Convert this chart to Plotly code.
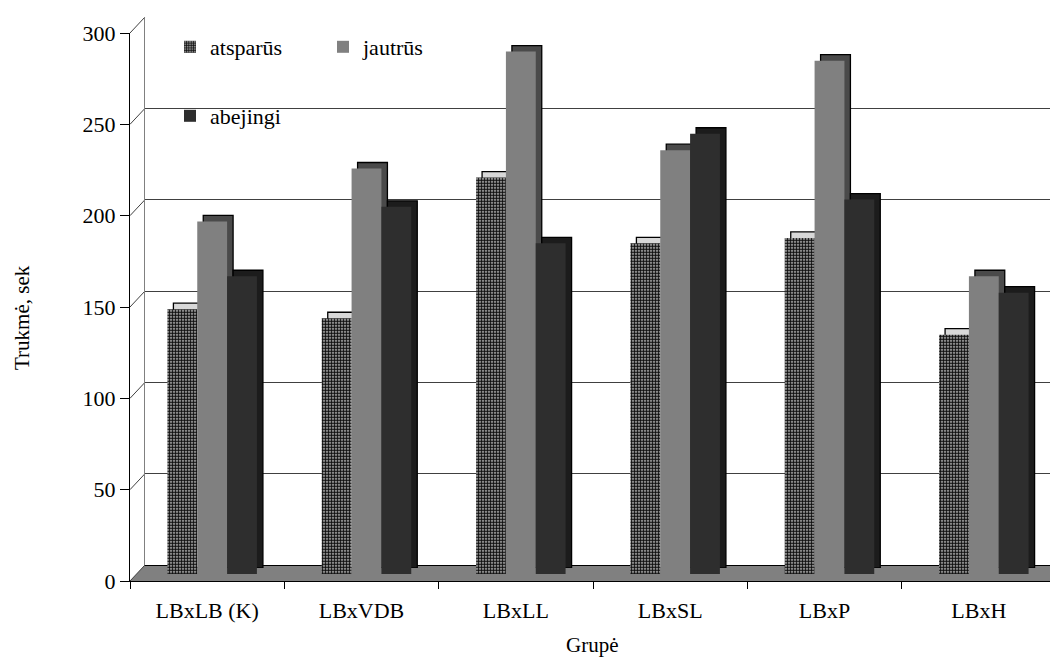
import plotly.graph_objects as go

# ---- data ----
categories = ["LBxLB (K)", "LBxVDB", "LBxLL", "LBxSL", "LBxP", "LBxH"]
atsparus = [145, 140, 217, 181, 184, 131]
jautrus = [193, 222, 286, 232, 281, 163]
abejingi = [163, 201, 181, 241, 205, 154]
series_names = ["atsparūs", "jautrūs", "abejingi"]
y_ticks = [0, 50, 100, 150, 200, 250, 300]

# ---- geometry / style ----
W, H = 1058, 657
PAGE_OFF = 8            # browser body margin compensation
X0, X1 = 130, 1056      # front category axis (px, screen)
Y0, YT = 581, 33        # front value axis: 0 and 300 (px from top, screen)
cat_px = (X1 - X0) / len(categories)
FONT = "Liberation Serif"
FS = 22
WALL = (15, 16)         # back wall depth offset (dx, dy)
FRONT = (5, 7)          # bar front face offset
BACK = (11, 13)         # bar back face offset


def px(x):
    return (x - PAGE_OFF) / W


def py(y):
    return (H - (y - PAGE_OFF)) / H


def yfront(v):
    return Y0 - (Y0 - YT) * v / 300.0


def shifted(dx, dy):
    right = W + PAGE_OFF
    span = (right - X0 - dx) / cat_px
    return dict(domain=[px(X0 + dx), 1.0], range=[-0.5, -0.5 + span]), \
        dict(domain=[py(Y0 - dy), py(YT - dy)], range=[0, 300])


fig = go.Figure()

# front axis holder (invisible)
fig.add_trace(go.Scatter(x=categories, y=[0] * len(categories), mode="none",
                         showlegend=False, hoverinfo="skip", xaxis="x", yaxis="y"))
# back wall holder (invisible)
fig.add_trace(go.Scatter(x=categories, y=[0] * len(categories), mode="none",
                         showlegend=False, hoverinfo="skip", xaxis="x2", yaxis="y2"))

values = [atsparus, jautrus, abejingi]
shadow_colors = ["#d8d8d8", "#4a4a4a", "#1c1c1c"]
front_colors = ["#b0b0b0", "#808080", "#2e2e2e"]
legends = ["legend", "legend", "legend2"]

# depth (top + side faces) drawn behind
for name, vals, col in zip(series_names, values, shadow_colors):
    fig.add_trace(go.Bar(x=categories, y=vals, name=name, xaxis="x3", yaxis="y3",
                         marker=dict(color=col, line=dict(color="black", width=1.3)),
                         showlegend=False, hoverinfo="skip"))

# front faces
for i, (name, vals, col, lg) in enumerate(zip(series_names, values, front_colors, legends)):
    marker = dict(color=col, line=dict(width=0))
    if i == 0:
        marker["pattern"] = dict(shape=".", size=3, solidity=0.7,
                                 fgcolor="#111111", bgcolor="#d8d8d8", fillmode="replace")
    fig.add_trace(go.Bar(x=categories, y=vals, name=name, xaxis="x4", yaxis="y4",
                         marker=marker, legend=lg))

xa2, ya2 = shifted(*WALL)
xa3, ya3 = shifted(*BACK)
xa4, ya4 = shifted(*FRONT)

hidden = dict(visible=False, type="category", categoryorder="array",
              categoryarray=categories, automargin=False)

# shapes: floor and left wall edges
shapes = []
shapes.append(dict(type="path", xref="paper", yref="paper", layer="below",
                   path=f"M {px(X0)},{py(Y0)} L 1,{py(Y0)} L 1,{py(Y0 - WALL[1])} "
                        f"L {px(X0 + WALL[0])},{py(Y0 - WALL[1])} Z",
                   fillcolor="#808080", line=dict(width=0)))
for v in y_ticks:
    yf = yfront(v)
    shapes.append(dict(type="line", xref="paper", yref="paper", layer="below",
                       x0=px(X0), y0=py(yf), x1=px(X0 + WALL[0]), y1=py(yf - WALL[1]),
                       line=dict(color="#404040", width=1)))

fig.update_layout(
    width=W, height=H, autosize=False,
    margin=dict(l=0, r=0, t=0, b=0, autoexpand=False),
    paper_bgcolor="white", plot_bgcolor="rgba(0,0,0,0)",
    font=dict(family=FONT, size=FS, color="black"),
    barmode="group", bargap=0.42, bargroupgap=0,
    xaxis=dict(domain=[px(X0), px(X1)], type="category", categoryorder="array",
               categoryarray=categories, range=[-0.5, 5.5], automargin=False,
               showline=True, linecolor="black", linewidth=1,
               ticks="outside", ticklen=7, tickcolor="black", tickson="boundaries",
               ticklabelstandoff=10,
               showgrid=False, zeroline=False, tickfont=dict(size=FS), anchor="y"),
    yaxis=dict(domain=[py(Y0), py(YT)], range=[0, 300], tickvals=y_ticks, automargin=False,
               showline=True, linecolor="black", linewidth=1,
               ticks="outside", ticklen=9, tickcolor="black",
               showgrid=False, zeroline=False, tickfont=dict(size=FS), anchor="x"),
    xaxis2=dict(hidden, **xa2, anchor="y2"),
    yaxis2=dict(**ya2, anchor="x2", tickvals=y_ticks, showticklabels=False, ticks="",
                automargin=False,
                showgrid=True, gridcolor="#404040", gridwidth=1,
                zeroline=True, zerolinecolor="black", zerolinewidth=1,
                showline=True, linecolor="#808080", linewidth=1),
    xaxis3=dict(hidden, **xa3, anchor="y3"),
    yaxis3=dict(**ya3, anchor="x3", visible=False, automargin=False),
    xaxis4=dict(hidden, **xa4, anchor="y4"),
    yaxis4=dict(**ya4, anchor="x4", visible=False, automargin=False),
    legend=dict(x=px(170), y=py(26), xanchor="left", yanchor="top",
                orientation="h", bgcolor="rgba(0,0,0,0)", entrywidth=108,
                font=dict(family=FONT, size=FS)),
    legend2=dict(x=px(170), y=py(95), xanchor="left", yanchor="top",
                 orientation="h", bgcolor="rgba(0,0,0,0)",
                 font=dict(family=FONT, size=FS)),
    shapes=shapes,
    annotations=[
        dict(text="Trukmė, sek", x=px(22), y=py(318), xref="paper", yref="paper",
             xanchor="center", yanchor="middle",
             showarrow=False, textangle=-90, font=dict(family=FONT, size=21)),
        dict(text="Grupė", x=px(592), y=py(645), xref="paper", yref="paper",
             xanchor="center", yanchor="middle",
             showarrow=False, font=dict(family=FONT, size=21)),
    ],
    showlegend=True,
)

fig.write_html("out.html")
